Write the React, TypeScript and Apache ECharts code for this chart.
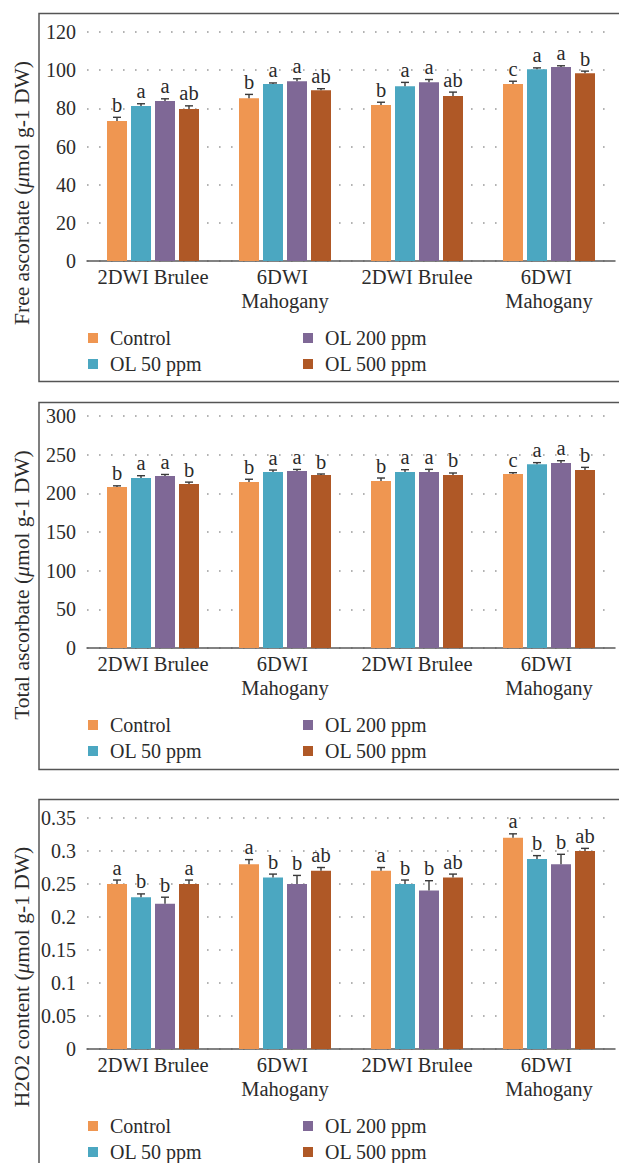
import React, { useEffect, useRef } from "react";
import * as echarts from "echarts";

const categories = ["2DWI Brulee", "6DWI Mahogany", "2DWI Brulee", "6DWI Mahogany"];
const seriesNames = ["Control", "OL 50 ppm", "OL 200 ppm", "OL 500 ppm"];
const colors = ["#EF9651", "#4BA7C1", "#7F6896", "#AF5826"];

// Panel 1: Free ascorbate
const freeControl = [73.3, 85.3, 81.7, 92.7];
const freeOL50 = [81.2, 92.7, 91.6, 100.5];
const freeOL200 = [83.8, 94.2, 93.7, 101.6];
const freeOL500 = [79.6, 89.5, 86.4, 98.4];
const freeErrControl = [2, 2, 1.5, 1.5];
const freeErrOL50 = [1.2, 0.6, 2, 0.7];
const freeErrOL200 = [1.2, 1.3, 1.4, 0.7];
const freeErrOL500 = [1.7, 0.8, 2.1, 1.1];
const freeLetters = [
  ["b", "b", "b", "c"],
  ["a", "a", "a", "a"],
  ["a", "a", "a", "a"],
  ["ab", "ab", "ab", "b"],
];

// Panel 2: Total ascorbate
const totalControl = [208.2, 214.7, 216, 225];
const totalOL50 = [219.8, 227.6, 227.6, 237.5];
const totalOL200 = [222.4, 228.9, 227.6, 239.2];
const totalOL500 = [212, 223.7, 223.7, 230.2];
const totalErrControl = [1.5, 3.5, 3.8, 1.7];
const totalErrOL50 = [3, 2.5, 3, 2.2];
const totalErrOL200 = [2, 2, 3.4, 3];
const totalErrOL500 = [2.5, 1.3, 2.6, 3.4];
const totalLetters = [
  ["b", "b", "b", "c"],
  ["a", "a", "a", "a"],
  ["a", "a", "a", "a"],
  ["b", "b", "b", "b"],
];

// Panel 3: H2O2 content
const h2o2Control = [0.25, 0.28, 0.27, 0.32];
const h2o2OL50 = [0.23, 0.26, 0.25, 0.288];
const h2o2OL200 = [0.22, 0.25, 0.24, 0.28];
const h2o2OL500 = [0.25, 0.27, 0.26, 0.3];
const h2o2ErrControl = [0.006, 0.007, 0.005, 0.006];
const h2o2ErrOL50 = [0.005, 0.005, 0.006, 0.005];
const h2o2ErrOL200 = [0.01, 0.013, 0.015, 0.015];
const h2o2ErrOL500 = [0.006, 0.005, 0.005, 0.004];
const h2o2Letters = [
  ["a", "a", "a", "a"],
  ["b", "b", "b", "b"],
  ["b", "b", "b", "b"],
  ["a", "ab", "ab", "ab"],
];

const yTitles = ["Free ascorbate ", "Total ascorbate ", "H2O2 content "];
const yMax = [120, 300, 0.35];
const yInterval = [20, 50, 0.05];

const FONT = "'Liberation Serif', 'DejaVu Serif', serif";
const TEXT = "#2b2b2b";

const panels = [
  {
    values: [freeControl, freeOL50, freeOL200, freeOL500],
    errors: [freeErrControl, freeErrOL50, freeErrOL200, freeErrOL500],
    letters: freeLetters,
  },
  {
    values: [totalControl, totalOL50, totalOL200, totalOL500],
    errors: [totalErrControl, totalErrOL50, totalErrOL200, totalErrOL500],
    letters: totalLetters,
  },
  {
    values: [h2o2Control, h2o2OL50, h2o2OL200, h2o2OL500],
    errors: [h2o2ErrControl, h2o2ErrOL50, h2o2ErrOL200, h2o2ErrOL500],
    letters: h2o2Letters,
  },
];

// layout
const gridTops = [32, 416, 818];
const gridHeights = [229, 232, 231];
const boxTops = [13.5, 402.5, 799.5];
const boxHeights = [368, 367, 420];
const titleCenters = [193, 585, 977];
const legendTops = [328, 715, 1116];

const BAR_W = 20;
const PITCH = 24;

export default function App() {
  const ref = useRef<HTMLDivElement>(null);

  useEffect(() => {
    if (!ref.current) return;
    const chart = echarts.init(ref.current, undefined, { renderer: "svg" });

    const grid: any[] = [];
    const xAxis: any[] = [];
    const yAxis: any[] = [];
    const series: any[] = [];
    const legend: any[] = [];
    const graphic: any[] = [];

    panels.forEach((p, pi) => {
      grid.push({ left: 87, width: 528, top: gridTops[pi], height: gridHeights[pi] });
      xAxis.push({
        type: "category",
        gridIndex: pi,
        data: categories,
        axisTick: { show: false },
        axisLine: { lineStyle: { color: "#5a5a5a", width: 1.5 } },
        axisLabel: {
          interval: 0,
          fontFamily: FONT,
          fontSize: 20.5,
          lineHeight: 24,
          color: TEXT,
          margin: 4,
          width: 130,
          overflow: "break",
        },
      });
      yAxis.push({
        type: "value",
        gridIndex: pi,
        min: 0,
        max: yMax[pi],
        interval: yInterval[pi],
        axisLine: { show: false },
        axisTick: { show: false },
        axisLabel: { fontFamily: FONT, fontSize: 20, color: TEXT, margin: 11 },
        splitLine: { lineStyle: { color: "#9a9a9a", width: 1.6, type: [1.6, 10.4] } },
      });
      p.values.forEach((vals, si) => {
        series.push({
          type: "bar",
          name: seriesNames[si],
          xAxisIndex: pi,
          yAxisIndex: pi,
          data: vals,
          barWidth: BAR_W,
          barGap: "20%",
          itemStyle: { color: colors[si] },
          z: 2,
        });
      });
      const errData: any[] = [];
      for (let si = 0; si < 4; si++) {
        for (let ci = 0; ci < 4; ci++) {
          errData.push([ci, p.values[si][ci] + p.errors[si][ci]]);
        }
      }
      series.push({
        type: "custom",
        xAxisIndex: pi,
        yAxisIndex: pi,
        data: errData,
        encode: { x: 0, y: 1 },
        z: 5,
        clip: false,
        renderItem: (params: any, api: any) => {
          const idx = params.dataIndex;
          const si = Math.floor(idx / 4);
          const ci = idx % 4;
          const v = p.values[si][ci];
          const e = p.errors[si][ci];
          const base = api.coord([ci, v]);
          const top = api.coord([ci, v + e]);
          const x = base[0] + (si - 1.5) * PITCH;
          return {
            type: "group",
            children: [
              {
                type: "line",
                shape: { x1: x, y1: base[1], x2: x, y2: top[1] },
                style: { stroke: "#3a3a3a", lineWidth: 1.4 },
              },
              {
                type: "line",
                shape: { x1: x - 4, y1: top[1], x2: x + 4, y2: top[1] },
                style: { stroke: "#3a3a3a", lineWidth: 1.4 },
              },
              {
                type: "text",
                x: x,
                y: top[1] - 2,
                style: {
                  text: p.letters[si][ci],
                  fontFamily: FONT,
                  fontSize: 20.5,
                  fill: TEXT,
                  align: "center",
                  verticalAlign: "bottom",
                },
              },
            ],
          };
        },
      });

      const legendCommon = {
        orient: "vertical",
        top: legendTops[pi],
        height: 80,
        padding: 0,
        itemWidth: 10,
        itemHeight: 10,
        itemGap: 6,
        icon: "rect",
        selectedMode: false,
        textStyle: {
          fontFamily: FONT,
          fontSize: 20,
          lineHeight: 20,
          color: TEXT,
          padding: [0, 0, 0, 7],
        },
      };
      legend.push({ ...legendCommon, left: 88, data: ["Control", "OL 50 ppm"] });
      legend.push({ ...legendCommon, left: 303, data: ["OL 200 ppm", "OL 500 ppm"] });

      graphic.push({
        type: "rect",
        shape: { x: 39, y: boxTops[pi], width: 700, height: boxHeights[pi] },
        style: { fill: "none", stroke: "#555", lineWidth: 1.5 },
        silent: true,
      });
      graphic.push({
        type: "text",
        x: 22,
        y: titleCenters[pi],
        rotation: Math.PI / 2,
        style: {
          text: yTitles[pi] + "({i|\u03bc}mol g-1 DW)",
          fontFamily: FONT,
          fontSize: 21.5,
          fill: TEXT,
          align: "center",
          verticalAlign: "middle",
          rich: {
            i: { fontFamily: FONT, fontSize: 21.5, fontStyle: "italic", fill: TEXT },
          },
        },
      });
    });

    chart.setOption({
      animation: false,
      backgroundColor: "#ffffff",
      grid,
      xAxis,
      yAxis,
      series,
      legend,
      graphic,
    });

    return () => chart.dispose();
  }, []);

  return (
    <div
      ref={ref}
      style={{ position: "absolute", left: 0, top: 0, width: 619, height: 1163 }}
    />
  );
}
